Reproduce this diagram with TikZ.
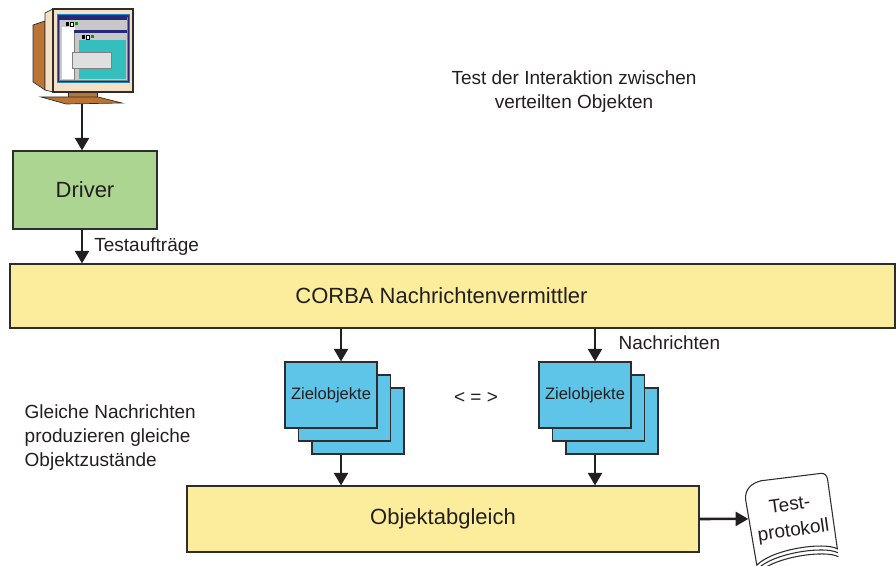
\documentclass[tikz,border=0pt]{standalone}
\usepackage{fontspec}
\setmainfont{Liberation Sans}
\usetikzlibrary{arrows.meta, positioning, calc}
\definecolor{drivergreen}{RGB}{172, 213, 146}
\definecolor{brokeryellow}{RGB}{251, 237, 155}
\definecolor{objblue}{RGB}{94, 197, 232}
\definecolor{framegray}{RGB}{45, 45, 45}
\definecolor{textgray}{RGB}{35, 31, 32}
\definecolor{casing}{RGB}{245, 224, 196}
\definecolor{casingbrown}{RGB}{186, 117, 52}
\definecolor{winnavy}{RGB}{40, 40, 120}
\definecolor{wingray}{RGB}{200, 200, 200}
\definecolor{winteal}{RGB}{52, 190, 190}

\tikzset{
  block/.style={draw=framegray, line width=0.8pt, text=textgray,
    font=\fontsize{16.5}{19}\selectfont},
  ziel/.style={draw=framegray, line width=0.8pt, fill=objblue,
    minimum width=69pt, minimum height=49.5pt, text=textgray,
    font=\fontsize{12.4}{15}\selectfont},
  lbl/.style={text=textgray, font=\fontsize{14.25}{18}\selectfont},
  flow/.style={line width=1.9pt, draw=textgray, fill=textgray,
    -{Triangle[length=9.5pt, width=10.5pt]}},
}

\begin{document}
\begin{tikzpicture}[x=0.75pt, y=-0.75pt]
  \useasboundingbox (0,0) rectangle (896,566);

  % monitor: casing and screen
  \filldraw[fill=casingbrown, draw=framegray, line width=0.5pt]
    (33,25) -- (45,21) -- (45,90) -- (33,82) -- cycle;
  \filldraw[fill=casing, draw=framegray, line width=0.5pt]
    (45,13) -- (53,9) -- (53,92) -- (45,90) -- cycle;
  \filldraw[fill=casing, draw=framegray, line width=0.8pt] (53,9) rectangle (133,92);
  \filldraw[fill=winnavy, draw=cyan!70!blue, line width=0.6pt] (57,14) rectangle (129,82);
  % windows on the screen
  \filldraw[fill=wingray, draw=gray, line width=0.4pt] (59,17) rectangle (127,80);
  \fill[winnavy] (59,17) rectangle (127,20);
  \fill[white] (62,27) rectangle (75,79);
  \filldraw[fill=wingray, draw=gray, line width=0.4pt] (74,30) rectangle (127,80);
  \fill[winnavy] (74,30) rectangle (127,33);
  \fill[winteal] (79,40) rectangle (126,79);
  \foreach \ix/\iy in {66/22, 82/35} {
    \fill[black] (\ix,\iy) rectangle +(3,4);
    \filldraw[fill=white, draw=black, line width=0.3pt] (\ix+4,\iy) rectangle +(3,4);
    \fill[green!60!black] (\ix+9,\iy) rectangle +(3,3);
  }
  \filldraw[fill=gray!25, draw=gray, line width=0.4pt] (72,52) rectangle (111,68);
  % stand
  \filldraw[fill=casingbrown, draw=framegray, line width=0.5pt] (68,92) rectangle (97,98);
  \filldraw[fill=casingbrown, draw=framegray, line width=0.5pt]
    (41,97) -- (98,97) -- (122,103) -- (66,104) -- cycle;
  \coordinate (monitor) at (82,104);

  % boxes
  \node[block, fill=drivergreen, minimum width=108pt, minimum height=58.5pt]
    (driver) at (85,190) {Driver};
  \node[block, fill=brokeryellow, minimum width=663.75pt, minimum height=48pt]
    (corba) at (452.5,296) {CORBA Nachrichtenvermittler\hspace*{16.5pt}};
  \node[block, fill=brokeryellow, minimum width=384pt, minimum height=49.5pt]
    (abgleich) at (443,519) {Objektabgleich};

  % stacks of target objects
  \foreach \s/\cx in {l/331, r/585} {
    \node[ziel] (z\s3) at (\cx+27,421) {};
    \node[ziel] (z\s2) at (\cx+13.5,408) {};
    \node[ziel] (z\s1) at (\cx,395) {Zielobjekte};
  }
  \node[lbl] (gleich) at (476,398) {< = >};

  % test log document
  \begin{scope}[shift={(791,521)}, rotate=8]
    \filldraw[fill=white, draw=framegray, line width=0.8pt]
      (-42,-28) .. controls (-41,-38) and (-34,-43) .. (-24,-44)
      -- (36,-43) .. controls (40,-43) and (42,-40) .. (42,-36)
      -- (42,34) .. controls (30,25) and (-22,25) .. (-40,39) -- cycle;
    \draw[framegray, line width=0.8pt] (42,38) .. controls (30,29) and (-22,29) .. (-40,43);
    \draw[framegray, line width=0.8pt] (42,42) .. controls (30,33) and (-22,33) .. (-40,47);
    \node[lbl, align=center, transform shape, font=\fontsize{14.25}{19.5}\selectfont]
      (protokoll) at (1,-2) {Test-\\protokoll};
    \coordinate (prot) at (-42,-8);
  \end{scope}

  % connectors
  \draw[flow] (monitor) -- (monitor |- driver.north);
  \draw[flow] (monitor |- driver.south) -- (monitor |- corba.north)
    node[lbl, midway, right=5pt] {Testaufträge};
  \foreach \s in {l, r} {
    \draw[flow] ([xshift=7.5pt]z\s1.north |- corba.south) -- ([xshift=7.5pt]z\s1.north);
    \draw[flow] ([xshift=7.5pt]z\s1.north |- z\s3.south) -- ([xshift=7.5pt]z\s1.north |- abgleich.north);
  }
  \draw[flow] (abgleich.east) -- (prot);

  % free texts
  \node[lbl, anchor=west] at (614,343) {Nachrichten};
  \node[lbl, align=center] at (574,92) {Test der Interaktion zwischen\\verteilten Objekten};
  \node[lbl, align=left, anchor=west] at (20,438)
    {Gleiche Nachrichten\\produzieren gleiche\\Objektzustände};
\end{tikzpicture}
\end{document}
